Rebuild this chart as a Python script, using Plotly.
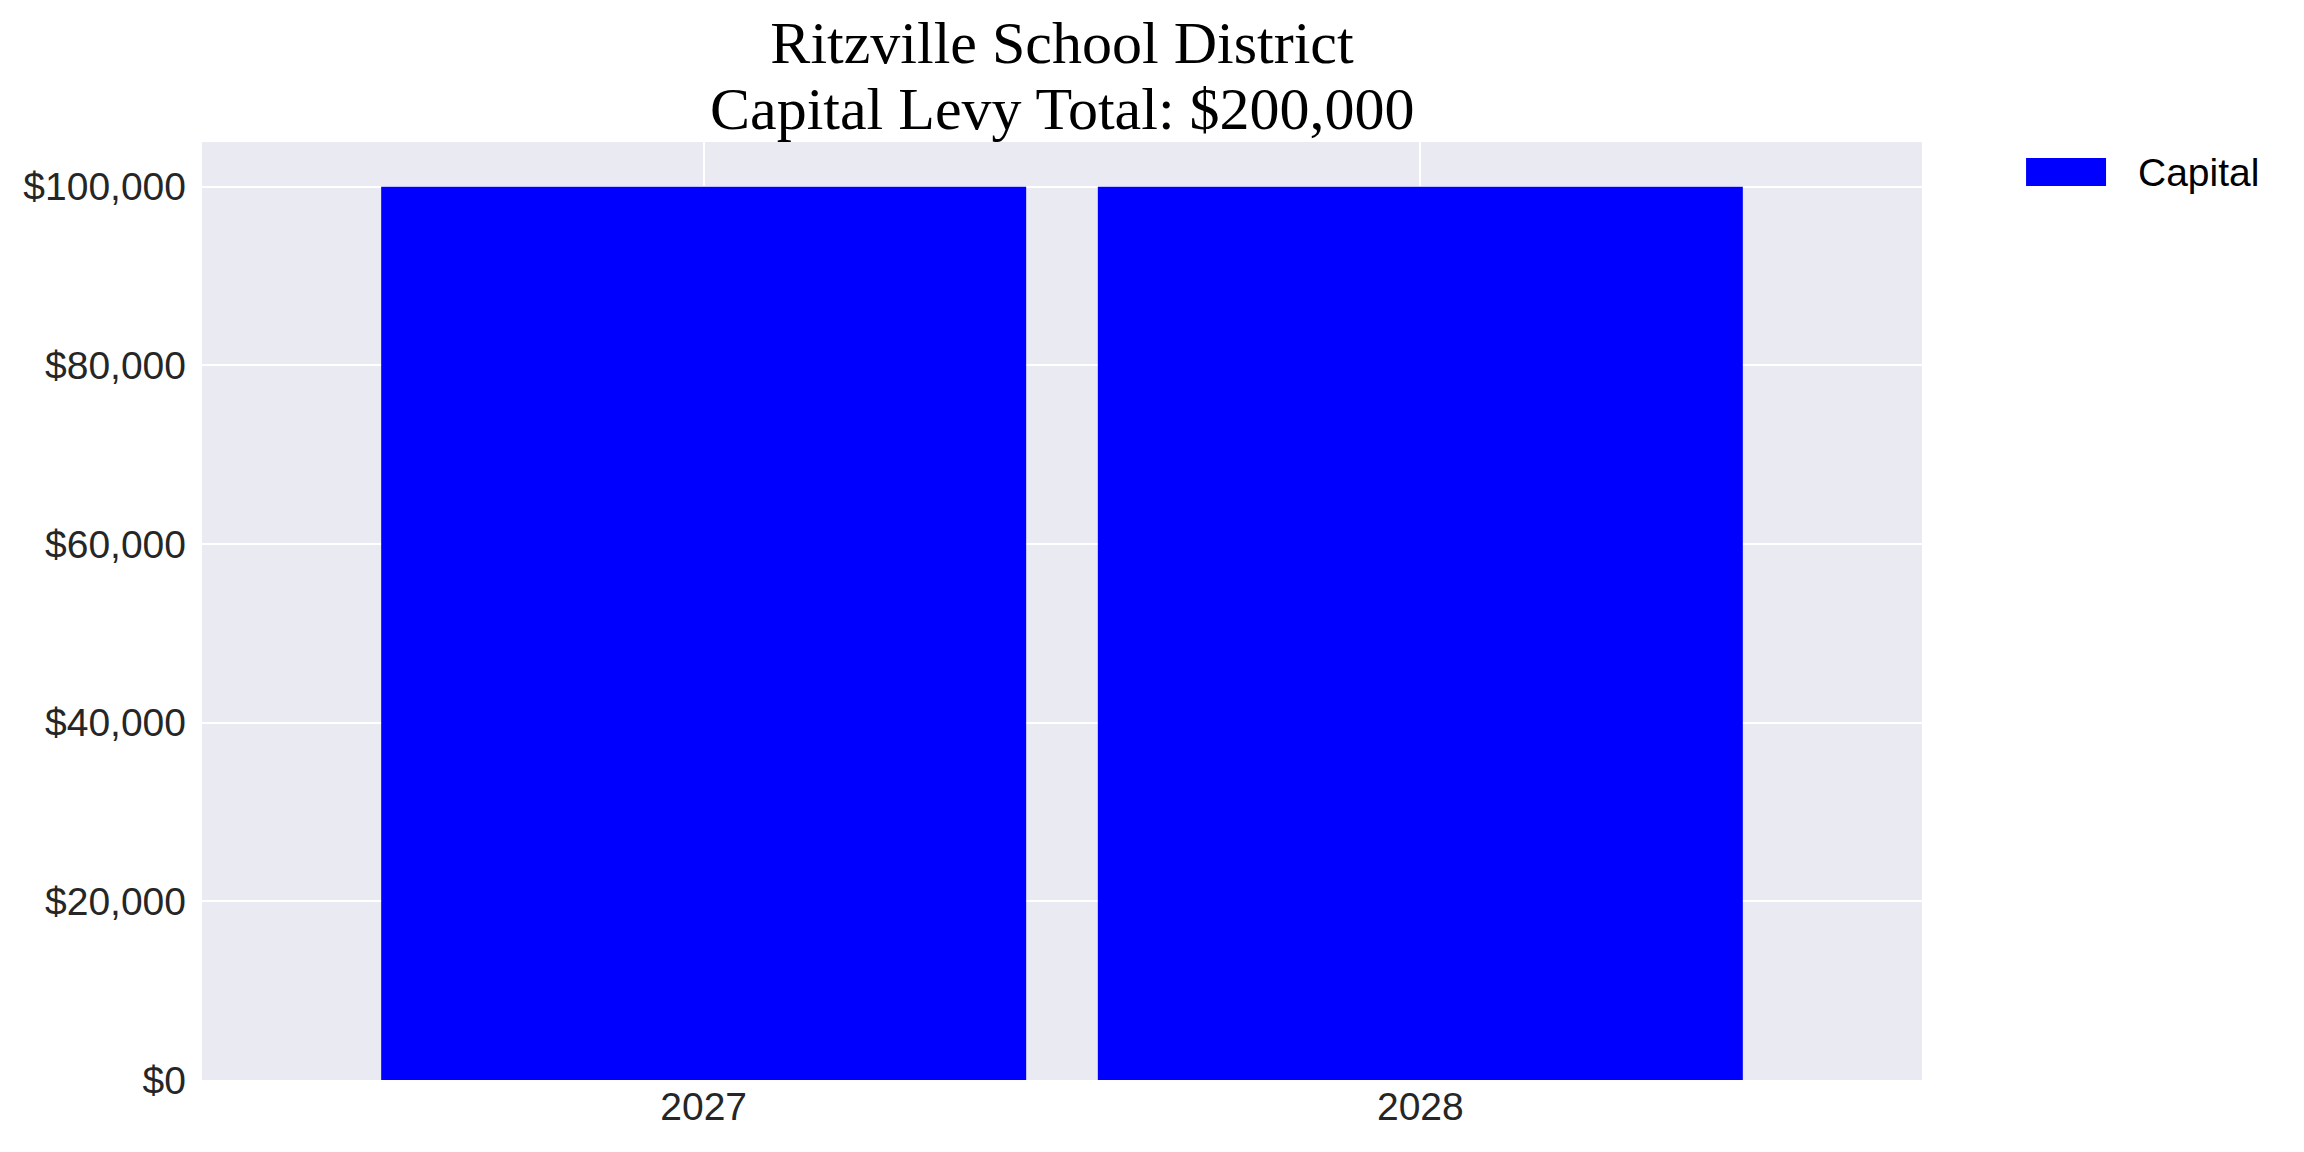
"""
plot.py — Capital levy bar chart for Ritzville School District.
"""

import plotly.graph_objects as go


# ── Data ──────────────────────────────────────────────────────────────────────

district = "Ritzville School District"
series_name = "Capital"
years = ["2027", "2028"]
capital_levy = [100000, 100000]
y_ticks = [0, 20000, 40000, 60000, 80000, 100000]
y_tick_labels = ["$0", "$20,000", "$40,000", "$60,000", "$80,000", "$100,000"]

levy_total = sum(capital_levy)


# ── Styling ───────────────────────────────────────────────────────────────────

BAR_BLUE = "#0000FF"
SANS = "Liberation Sans, Arial, sans-serif"
SERIF = "Liberation Serif, 'Times New Roman', serif"
TITLE_SIZE = 60
TICK_SIZE = 39

fig = go.Figure()

fig.add_trace(go.Bar(
    name=series_name,
    x=years,
    y=capital_levy,
    width=0.9,
    marker=dict(color=BAR_BLUE, line=dict(width=0)),
    showlegend=False,
))

# the second title line is its own annotation so the line spacing can match
fig.add_annotation(
    text=f"Capital Levy Total: ${levy_total:,.0f}",
    xref="paper", yref="paper",
    x=0.5, y=1.0352,
    xanchor="center", yanchor="middle",
    showarrow=False,
    font=dict(family=SERIF, size=TITLE_SIZE, color="#000000"),
)

# legend drawn by hand: wide swatch + label, like the matplotlib patch legend
fig.add_shape(
    type="rect",
    xref="paper", yref="paper",
    x0=1.0605, x1=1.1070, y0=0.9531, y1=0.9829,
    fillcolor=BAR_BLUE,
    line=dict(width=0),
)
fig.add_annotation(
    text=series_name,
    xref="paper", yref="paper",
    x=1.1245, y=0.967,
    xanchor="left", yanchor="middle",
    showarrow=False,
    font=dict(family=SANS, size=39, color="#000000"),
)

fig.update_layout(
    title=dict(
        text=district,
        font=dict(family=SERIF, size=TITLE_SIZE, color="#000000"),
        x=0.5,
        xref="paper",
        xanchor="center",
        y=1 - 34 / 1152,
        yref="container",
        yanchor="middle",
    ),
    xaxis=dict(
        type="category",
        range=[-0.7, 1.7],
        showgrid=True,
        gridcolor="#FFFFFF",
        gridwidth=2,
        zeroline=False,
        showline=False,
        ticks="",
        ticklabelstandoff=0,
        automargin=False,
        tickfont=dict(family=SANS, size=TICK_SIZE, color="#262626"),
    ),
    yaxis=dict(
        range=[0, 105000],
        tickvals=y_ticks,
        ticktext=y_tick_labels,
        showgrid=True,
        gridcolor="#FFFFFF",
        gridwidth=2,
        zeroline=False,
        showline=False,
        ticks="",
        ticklabelstandoff=15,
        automargin=False,
        tickfont=dict(family=SANS, size=TICK_SIZE, color="#262626"),
    ),
    showlegend=False,
    plot_bgcolor="#EAEAF2",
    paper_bgcolor="#FFFFFF",
    # page body adds an 8px offset, so the margins are shifted back by 8px
    margin=dict(l=194, r=390, t=134, b=80),
    width=2304,
    height=1152,
)

fig.write_html("out.html")
